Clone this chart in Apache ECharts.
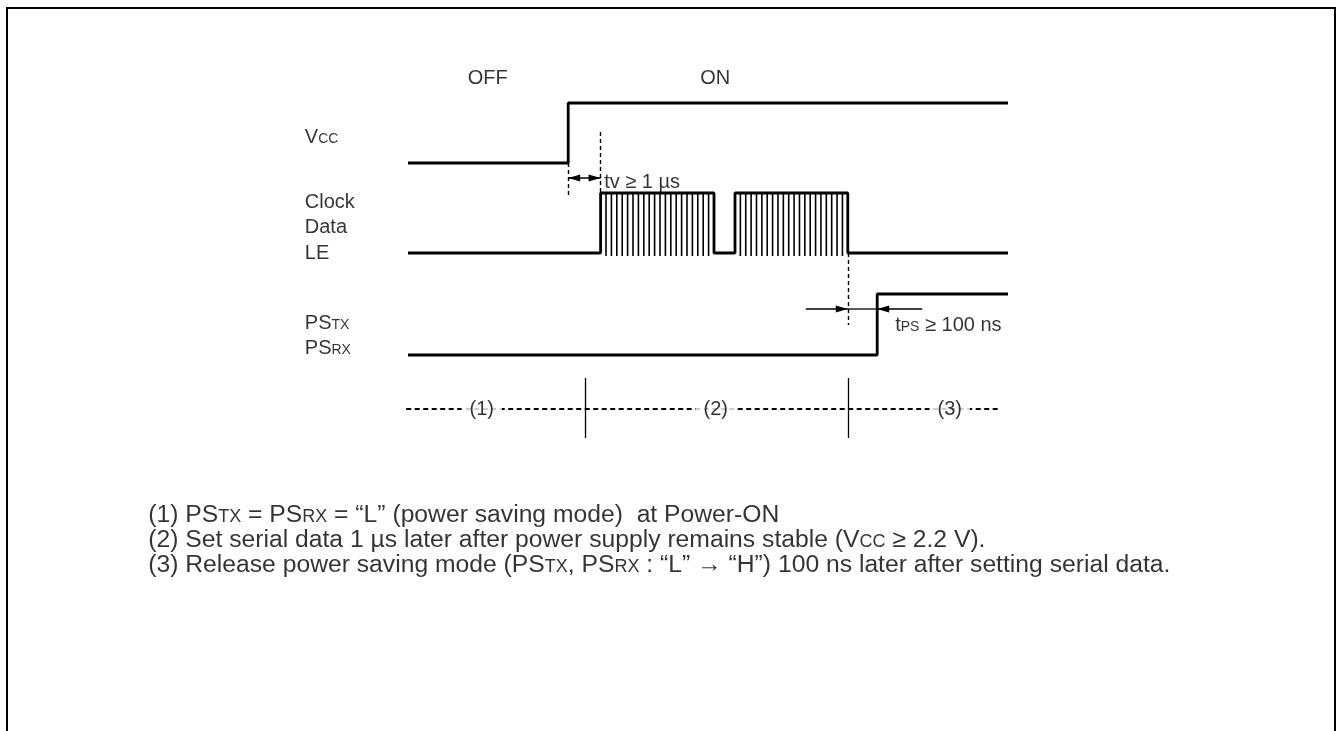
<!DOCTYPE html>
<html>
<head>
<meta charset="utf-8">
<title>Power-ON timing</title>
<script src="https://cdn.jsdelivr.net/npm/echarts@6/dist/echarts.min.js"></script>
<style>
  html, body { margin: 0; padding: 0; background: #fff; }
  #main { width: 1336px; height: 731px; }
</style>
</head>
<body>
<div id="main"></div>
<script>
// x = time units (0..100 is the waveform span), y = vertical position, top down
var vccWave = [[0, 163], [26.7, 163], [26.7, 103], [100, 103]];
var serialWave = [[0, 253], [32.1, 253], [32.1, 193], [51, 193], [51, 253],
  [54.5, 253], [54.5, 193], [73.3, 193], [73.3, 253], [100, 253]];
var psWave = [[0, 355], [78.2, 355], [78.2, 294], [100, 294]];
var bursts = [[32.1, 51], [54.5, 73.3]];
var dashedMarks = [[26.7, 163, 196], [32.1, 132, 193], [73.3, 253, 325]];
// x1, x2, y, head at x1, head at x2
var arrows = [[26.7, 32.1, 178, 1, 1], [66.3, 73.3, 309, 0, 1],
  [73.3, 78.2, 309, 0, 0], [85.7, 78.2, 309, 0, 1]];
var phaseLine = [[-0.3, 409], [98.7, 409]];
var phaseBounds = [29.5, 73.3];
var phaseLabels = [[12.3, 409, '(1)'], [51.3, 409, '(2)'], [90.3, 409, '(3)']];
var stateLabels = [[13.3, 78, 'OFF'], [51.2, 78, 'ON']];
var signalLabels = [[-17.2, 137, 'V{s|CC}'], [-17.2, 202, 'Clock'], [-17.2, 227, 'Data'],
  [-17.2, 253, 'LE'], [-17.2, 323, 'PS{s|TX}'], [-17.2, 348, 'PS{s|RX}']];
var timingLabels = [[32.7, 182, 'tv ≥ 1 µs'], [81.2, 325, 't{s|PS} ≥ 100 ns']];
var notes = [
  [-43.3, 515, '(1) PS{s|TX} = PS{s|RX} = “L” (power saving mode)  at Power-ON'],
  [-43.3, 540, '(2) Set serial data 1 µs later after power supply remains stable (V{s|CC} ≥ 2.2 V).'],
  [-43.3, 565, '(3) Release power saving mode (PS{s|TX}, PS{s|RX} : “L” → “H”) 100 ns later after setting serial data.']
];

var chart = echarts.init(document.getElementById('main'));
var FONT = '"Liberation Sans", Arial, sans-serif';
var HATCH_TOP = 193, HATCH_BOTTOM = 256;

function wave(data) {
  return {
    type: 'line', data: data, symbol: 'none', silent: true,
    lineStyle: { color: '#000', width: 2.8 }, z: 3
  };
}

function labels(data, size, align, extra) {
  var small = Math.round(size * 0.72);
  var drop = Math.round((size - small) * 0.6);
  return {
    type: 'scatter', silent: true, symbolSize: 1, z: 5,
    itemStyle: { color: 'rgba(0,0,0,0)' },
    data: data.map(function (d) { return { value: [d[0], d[1]], name: d[2] }; }),
    label: Object.assign({
      show: true, position: 'inside', formatter: '{b}', align: align,
      verticalAlign: 'middle', color: '#000', fontFamily: FONT, fontSize: size,
      lineHeight: size + 4,
      rich: { s: { fontSize: small, fontFamily: FONT, color: '#000', padding: [drop, 0, 0, 0] } }
    }, extra || {})
  };
}

var option = {
  animation: false,
  grid: { left: 0, right: 0, top: 0, bottom: 0 },
  xAxis: { type: 'value', min: -68, max: 1336 / 6 - 68, show: false },
  yAxis: { type: 'value', min: 0, max: 731, inverse: true, show: false },
  graphic: [{
    type: 'rect', shape: { x: 7, y: 8, width: 1328, height: 760 },
    style: { fill: 'none', stroke: '#000', lineWidth: 2 }, silent: true
  }],
  series: [
    wave(vccWave),
    wave(serialWave),
    wave(psWave),
    {
      type: 'custom', data: bursts, silent: true, z: 2,
      encode: { x: [0, 1] },
      renderItem: function (params, api) {
        var a = api.coord([api.value(0), HATCH_TOP]);
        var b = api.coord([api.value(1), HATCH_BOTTOM]);
        var n = 21, children = [];
        for (var i = 1; i < n; i++) {
          var x = a[0] + (b[0] - a[0]) * i / n;
          children.push({ type: 'line', shape: { x1: x, y1: a[1], x2: x, y2: b[1] },
            style: { stroke: '#000', lineWidth: 1.6 } });
        }
        return { type: 'group', children: children };
      }
    },
    {
      type: 'lines', coordinateSystem: 'cartesian2d', silent: true, z: 2,
      data: dashedMarks.map(function (d) { return { coords: [[d[0], d[1]], [d[0], d[2]]] }; }),
      lineStyle: { color: '#000', width: 1.4, type: [4, 3], opacity: 1 }
    },
    {
      type: 'custom', data: arrows, silent: true, z: 4,
      encode: { x: [0, 1], y: 2 },
      renderItem: function (params, api) {
        var y = api.value(2);
        var p1 = api.coord([api.value(0), y]);
        var p2 = api.coord([api.value(1), y]);
        var dir = p2[0] > p1[0] ? 1 : -1;
        var L = 12, W = 3.5;
        function head(tip, d) {
          return { type: 'polygon', shape: { points: [[tip[0], tip[1]],
            [tip[0] - d * L, tip[1] - W], [tip[0] - d * L, tip[1] + W]] },
            style: { fill: '#000' } };
        }
        var children = [{ type: 'line', shape: { x1: p1[0], y1: p1[1], x2: p2[0], y2: p2[1] },
          style: { stroke: '#000', lineWidth: 1.3 } }];
        if (api.value(3)) children.push(head(p1, -dir));
        if (api.value(4)) children.push(head(p2, dir));
        return { type: 'group', children: children };
      }
    },
    {
      type: 'lines', coordinateSystem: 'cartesian2d', silent: true, z: 2,
      data: [{ coords: phaseLine }],
      lineStyle: { color: '#000', width: 1.8, type: [5, 3.5], opacity: 1 }
    },
    {
      type: 'lines', coordinateSystem: 'cartesian2d', silent: true, z: 2,
      data: phaseBounds.map(function (x) { return { coords: [[x, 378], [x, 438]] }; }),
      lineStyle: { color: '#000', width: 1.3, type: 'solid', opacity: 1 }
    },
    labels(phaseLabels, 20, 'center', { backgroundColor: '#fff', padding: [0, 8] }),
    labels(stateLabels, 20, 'center'),
    labels(signalLabels, 20, 'left'),
    labels(timingLabels, 20, 'left'),
    labels(notes, 24.7, 'left')
  ]
};

chart.setOption(option);
</script>
</body>
</html>
